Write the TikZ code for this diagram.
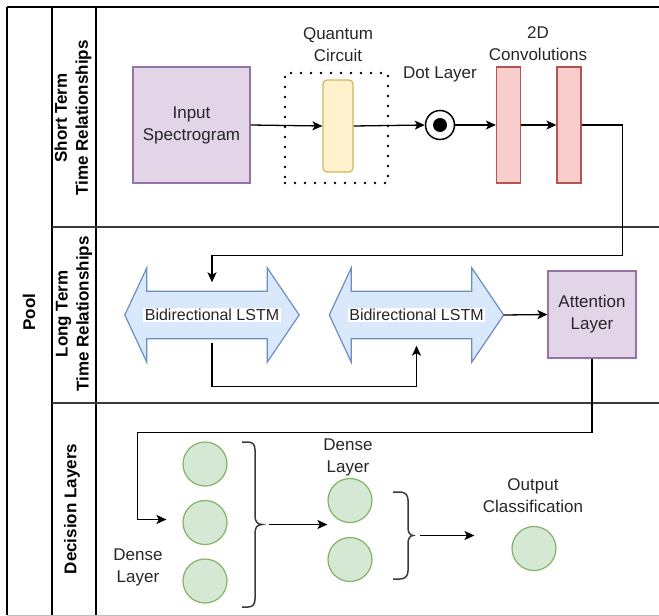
\documentclass[tikz,border=0pt]{standalone}
\usepackage{fontspec}
\setmainfont{Liberation Sans}
\usetikzlibrary{arrows.meta,calc,backgrounds}
\definecolor{purpfill}{HTML}{E1D5E7}
\definecolor{purpline}{HTML}{9673A6}
\definecolor{yelfill}{HTML}{FFF2CC}
\definecolor{yelline}{HTML}{D6B656}
\definecolor{redfill}{HTML}{F8CECC}
\definecolor{redline}{HTML}{B85450}
\definecolor{bluefill}{HTML}{DAE8FC}
\definecolor{blueline}{HTML}{6C8EBF}
\definecolor{grnfill}{HTML}{D5E8D4}
\definecolor{grnline}{HTML}{82B366}
\definecolor{txt}{HTML}{262626}
\definecolor{sep}{HTML}{3A3A3A}
\tikzset{
  lbl/.style={font=\fontsize{17}{22}\selectfont, text=txt, align=center, inner sep=0pt},
  lanelbl/.style={font=\bfseries\fontsize{17}{21}\selectfont, align=center, rotate=90, inner sep=0pt},
  purpbox/.style={draw=purpline, fill=purpfill, line width=1.2pt, lbl},
  convbox/.style={draw=redline, fill=redfill, line width=1.2pt, minimum width=24pt, minimum height=116pt},
  neuron/.style={circle, draw=grnline, fill=grnfill, line width=1.2pt, minimum size=44pt, inner sep=0pt},
  lstm/.style={minimum width=174pt, minimum height=47pt, inner sep=0pt,
    font=\fontsize{16}{19}\selectfont, text=txt},
  lstmshape/.style={draw=blueline, fill=bluefill, line width=1.2pt, line join=miter},
  conn/.style={line width=1.3pt, draw=black, -{Stealth[length=10pt,width=9pt,inset=2.5pt]}},
  bracestyle/.style={line width=1.5pt, draw=sep},
  poolline/.style={line width=1.5pt, draw=black},
  laneline/.style={line width=2.2pt, draw=sep},
}
\begin{document}
\begin{tikzpicture}[x=1pt,y=-1pt]
\useasboundingbox (0,0) rectangle (659,616);

% pool and lane frame
\draw[poolline] (7,7) -- (659,7);
\draw[poolline] (7,7) -- (7,615);
\draw[poolline] (52,7) -- (52,615);
\draw[poolline] (96,7) -- (96,615);
\draw[laneline] (52,227) -- (659,227);
\draw[laneline] (52,403) -- (659,403);
\draw[line width=0.8pt, draw=black!25] (7,615) -- (659,615);

\node[lanelbl] (pool) at (29,312) {Pool};
\node[lanelbl] (lane1) at (73,118) {Short Term\\Time Relationships};
\node[lanelbl] (lane2) at (74,314) {Long Term\\Time Relationships};
\node[lanelbl] (lane3) at (72,509) {Decision Layers};

% short term lane
\node[purpbox, minimum width=117pt, minimum height=116pt] (inp) at (191.5,125) {Input\\Spectrogram};
\node[draw=black, line width=2.8pt, dash pattern=on 0pt off 10pt, line cap=round,
      minimum width=103pt, minimum height=110pt] (qbox) at (336.5,128) {};
\node[draw=yelline, fill=yelfill, line width=1.2pt, rounded corners=4pt,
      minimum width=30pt, minimum height=92pt] (qc) at (338,126) {};
\node[lbl] (qlbl) at (338,45) {Quantum\\Circuit};
\node[circle, draw=black, fill=white, line width=1.5pt, minimum size=29pt, inner sep=0pt] (dot) at (440,125) {};
\fill[black] (dot.center) circle (7);
\node[lbl] (dotlbl) at (440,74) {Dot Layer};
\node[convbox] (c1) at (508.5,125) {};
\node[convbox] (c2) at (569,125) {};
\node[lbl] (convlbl) at (538,44) {2D\\Convolutions};

\draw[conn] (inp.east) -- (qc.west);
\draw[conn] (qc.east) -- (dot.west);
\draw[conn] (dot.east) -- (c1.west);
\draw[conn] (c1.east) -- (c2.west);

% long term lane
\node[lstm] (lstm1) at (212,315) {\fboxsep=1.5pt\colorbox{white}{Bidirectional LSTM}};
\node[lstm] (lstm2) at (416.5,315) {\fboxsep=1.5pt\colorbox{white}{Bidirectional LSTM}};
\begin{scope}[on background layer]
\foreach \n in {lstm1,lstm2}{
  \draw[lstmshape] (\n.west) -- ($(\n.north west)+(22,-23.5)$) -- ($(\n.north west)+(22,0)$)
    -- ($(\n.north east)+(-32,0)$) -- ($(\n.north east)+(-32,-23.5)$) -- (\n.east)
    -- ($(\n.south east)+(-32,23.5)$) -- ($(\n.south east)+(-32,0)$)
    -- ($(\n.south west)+(22,0)$) -- ($(\n.south west)+(22,23.5)$) -- cycle;
}
\end{scope}
\node[purpbox, minimum width=88pt, minimum height=87pt] (att) at (592,314.5) {Attention\\Layer};

\draw[conn, shorten >=9pt] (c2.east) -- ++(41,0) |- ($(lstm1.north)+(0,-35.5)$) -- (lstm1.north);
\draw[conn, shorten <=4pt, shorten >=7pt] (lstm1.south) -- ++(0,48) -| (lstm2.south);
\draw[conn] (lstm2.east) -- (att.west);

% decision lane
\node[neuron] (d11) at (205,464) {};
\node[neuron] (d12) at (205,522.5) {};
\node[neuron] (d13) at (205,581) {};
\node[lbl] (dl1) at (138,567) {Dense\\Layer};
\node[neuron] (d21) at (350,500.5) {};
\node[neuron] (d22) at (350,559.5) {};
\node[lbl] (dl2) at (348,457) {Dense\\Layer};
\node[neuron] (out) at (534,548.5) {};
\node[lbl] (outlbl) at (533,496) {Output\\Classification};

\draw[conn, shorten >=16pt] (att.south) -- ++(0,74) -| ($(d12.west)+(-45,-3)$) -- ($(d12.west)+(0,-3)$);

\coordinate (b1tip) at (262,524.5);
\draw[bracestyle] (242,442) -- (248,442) .. controls (253,442) and (255,445) .. (255,450)
  -- (255,516) .. controls (255,521) and (257,524.5) .. (b1tip)
  .. controls (257,524.5) and (255,528) .. (255,533)
  -- (255,599) .. controls (255,604) and (253,607) .. (248,607) -- (242,607);
\coordinate (b2tip) at (413,535.5);
\draw[bracestyle] (393,492) -- (400,492) .. controls (405,492) and (408,495) .. (408,500)
  -- (408,528) .. controls (408,532) and (410,535.5) .. (b2tip)
  .. controls (410,535.5) and (408,539) .. (408,543)
  -- (408,571) .. controls (408,576) and (405,579) .. (400,579) -- (393,579);

\draw[conn, shorten <=7pt] (b1tip) -- (d21.west |- b1tip);
\draw[conn, shorten <=7pt, shorten >=37pt] (b2tip) -- (out.west |- b2tip);
\end{tikzpicture}
\end{document}
